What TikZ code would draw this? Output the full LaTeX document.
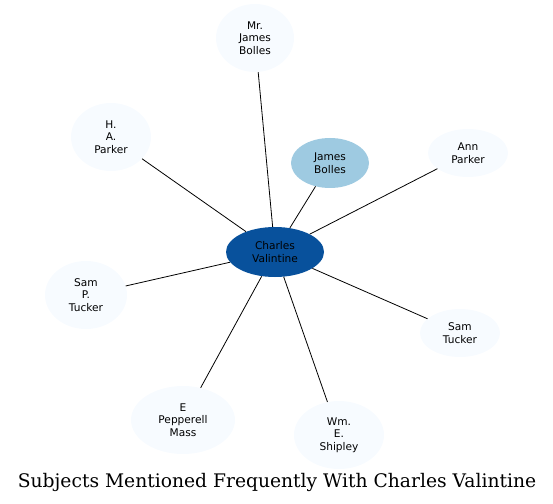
\documentclass[tikz,border=0pt]{standalone}
\usepackage{fontspec}
\setmainfont{DejaVu Serif}
\newfontfamily\labelfont{DejaVu Sans}
\usetikzlibrary{shapes.geometric}
\definecolor{hubblue}{HTML}{08519C}
\definecolor{midblue}{HTML}{9ECAE1}
\definecolor{paleblue}{HTML}{F7FBFF}

\begin{document}
\begin{tikzpicture}[x=1bp,y=-1bp,
  person/.style={ellipse,inner sep=0pt,align=center,font=\labelfont\fontsize{10.6bp}{12.6bp}\selectfont},
  hub/.style={person,fill=hubblue},
  near/.style={person,fill=midblue},
  far/.style={person,fill=paleblue},
  link/.style={line width=0.8bp,black}]
\useasboundingbox (0,0) rectangle (553,504);

\node[hub,minimum width=98bp,minimum height=50bp] (cv) at (275,252) {Charles\\Valintine};

\node[near,minimum width=78bp,minimum height=50bp] (jb) at (330,163) {James\\Bolles};
\node[far,minimum width=78bp,minimum height=68bp] (mjb) at (255,38) {Mr.\\James\\Bolles};
\node[far,minimum width=80bp,minimum height=68bp] (hap) at (111,137) {H.\\A.\\Parker};
\node[far,minimum width=80bp,minimum height=48bp] (ap) at (468,153) {Ann\\Parker};
\node[far,minimum width=82bp,minimum height=68bp] (spt) at (86,295) {Sam\\P.\\Tucker};
\node[far,minimum width=80bp,minimum height=48bp] (st) at (460,333) {Sam\\Tucker};
\node[far,minimum width=104bp,minimum height=68bp] (epm) at (183,420) {E\\Pepperell\\Mass};
\node[far,minimum width=90bp,minimum height=68bp] (wes) at (339,435) {Wm.\\E.\\Shipley};

\draw[link] (cv) -- (jb);
\draw[link] (cv) -- (mjb);
\draw[link] (cv) -- (hap);
\draw[link] (cv) -- (ap);
\draw[link] (cv) -- (spt);
\draw[link] (cv) -- (st);
\draw[link] (cv) -- (epm);
\draw[link] (cv) -- (wes);

\node[font=\fontsize{18.7bp}{22bp}\selectfont] (title) at (277,482) {Subjects Mentioned Frequently With Charles Valintine};
\end{tikzpicture}
\end{document}
